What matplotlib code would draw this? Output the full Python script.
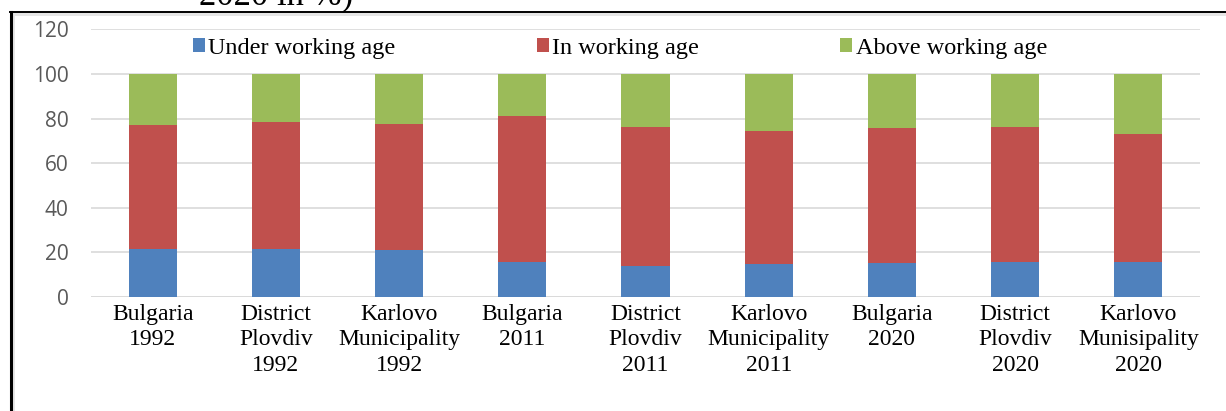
import matplotlib.pyplot as plt
from matplotlib.lines import Line2D
from matplotlib.patches import Rectangle
import numpy as np

labels = ['Bulgaria\n1992', 'District\nPlovdiv\n1992', 'Karlovo\nMunicipality\n1992',
          'Bulgaria\n2011', 'District\nPlovdiv\n2011', 'Karlovo\nMunicipality\n2011',
          'Bulgaria\n2020', 'District\nPlovdiv\n2020', 'Karlovo\nMunisipality\n2020']

under = [21.5, 21.5, 21.0, 15.8, 14.0, 14.6, 15.1, 15.8, 15.8]
working = [55.7, 56.8, 56.7, 65.4, 62.0, 59.6, 60.5, 60.2, 57.2]
above = [22.8, 21.7, 22.3, 18.8, 24.0, 25.8, 24.4, 24.0, 27.0]

W, H = 1226, 411
fig = plt.figure(figsize=(W / 100, H / 100), dpi=100)
ax = fig.add_axes([91 / W, 1 - 297 / H, 1109 / W, (297 - 29.3) / H])

x = np.arange(len(labels))
w = 0.39
under = np.array(under)
working = np.array(working)
ax.bar(x, under, w, color='#4F81BD', label='Under working age', zorder=3)
ax.bar(x, working, w, bottom=under, color='#C0504D', label='In working age', zorder=3)
ax.bar(x, above, w, bottom=under + working, color='#9BBB59', label='Above working age', zorder=3)

ax.set_xlim(-0.5, len(labels) - 0.5)
ax.set_ylim(0, 120)
ax.set_yticks(range(0, 121, 20))
ax.grid(axis='y', color='#d9d9d9', linewidth=1.2, zorder=0)
for s in ax.spines.values():
    s.set_visible(False)
ax.axhline(0, color='#d9d9d9', linewidth=1.2, zorder=1)

ax.set_xticks(x)
ax.set_xticklabels(labels, family='Liberation Serif', fontsize=17, linespacing=1.28)
ax.tick_params(axis='x', length=0, pad=5)
ax.tick_params(axis='y', length=0, pad=16, labelcolor='#595959')
for t in ax.get_yticklabels():
    t.set_family('Open Sans')
    t.set_fontsize(15)

ax.legend(loc='center', bbox_to_anchor=(0.477, 0.93), ncol=3, frameon=False,
          prop={'family': 'Liberation Serif', 'size': 17.5},
          handlelength=0.5, handleheight=0.5, handletextpad=0.15, columnspacing=5.8)

# page frame around the chart
fig.add_artist(Rectangle((12 / W, 0), 3 / W, 1 - 13 / H, transform=fig.transFigure,
                         color='#e6e6e6', lw=0))
fig.add_artist(Rectangle((12 / W, 1 - 16 / H), 1, 3 / H, transform=fig.transFigure,
                         color='#e6e6e6', lw=0))
fig.add_artist(Line2D([10.5 / W, 10.5 / W], [0, 1 - 12 / H], color='black', lw=2.2,
                      transform=fig.transFigure))
fig.add_artist(Line2D([9.5 / W, 1], [1 - 12 / H, 1 - 12 / H], color='black', lw=1.4,
                      transform=fig.transFigure))

fig.text(199 / W, 1 - 4 / H, '2020 in %)', family='Liberation Serif', fontsize=25,
         ha='left', va='baseline')

plt.savefig('out.png', dpi=100)
